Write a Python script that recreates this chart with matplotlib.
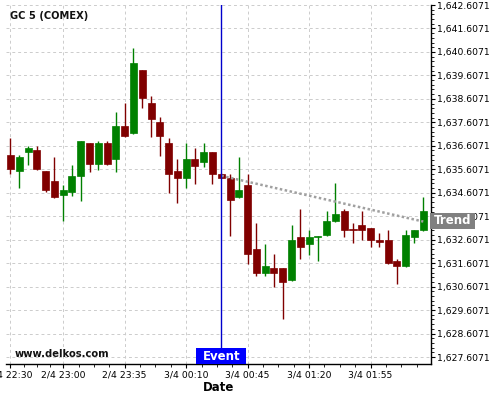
import matplotlib
matplotlib.use("Agg")
import matplotlib.pyplot as plt
import matplotlib.patches as mpatches
import matplotlib.transforms as mtransforms
from matplotlib.ticker import FuncFormatter, FixedLocator
import numpy as np
import pandas as pd

# ---------------- data ----------------
title = "GC 5 (COMEX)"
start_time = "2/4 22:30"
n_bars = 48
opens = [1636.21, 1635.54, 1636.34, 1636.42, 1635.53, 1635.10, 1634.51, 1634.62,
         1635.32, 1636.72, 1635.83, 1636.72, 1636.04, 1637.44, 1637.15, 1639.83,
         1638.42, 1637.61, 1636.72, 1635.53, 1635.23, 1636.04, 1635.91, 1636.34,
         1635.40, 1635.23, 1634.43, 1634.93, 1632.21, 1631.19, 1631.40, 1631.40,
         1630.90, 1632.72, 1632.42, 1632.73, 1632.80, 1633.40, 1633.83, 1633.06,
         1633.23, 1633.10, 1632.59, 1632.59, 1631.70, 1631.48, 1632.72, 1633.02]
closes = [1635.61, 1636.12, 1636.51, 1635.61, 1634.72, 1634.42, 1634.72, 1635.32,
          1636.81, 1635.83, 1636.72, 1635.83, 1637.44, 1637.02, 1640.13, 1638.64,
          1637.74, 1637.02, 1635.40, 1635.23, 1636.04, 1635.74, 1636.34, 1635.40,
          1635.24, 1634.31, 1634.72, 1632.01, 1631.20, 1631.48, 1631.20, 1630.82,
          1632.59, 1632.29, 1632.72, 1632.75, 1633.40, 1633.70, 1633.02, 1633.03,
          1633.02, 1632.59, 1632.51, 1631.60, 1631.48, 1632.80, 1633.02, 1633.83]
highs = [1636.92, 1636.20, 1636.62, 1636.62, 1635.55, 1636.12, 1634.92, 1635.81,
         1636.81, 1636.72, 1636.81, 1636.81, 1638.04, 1638.42, 1640.76, 1639.84,
         1638.72, 1637.83, 1636.93, 1636.04, 1636.72, 1636.51, 1636.72, 1636.35,
         1635.44, 1635.40, 1636.12, 1635.41, 1633.31, 1632.42, 1631.99, 1631.41,
         1633.23, 1633.91, 1633.02, 1632.76, 1633.83, 1635.02, 1633.91, 1633.31,
         1633.83, 1633.11, 1632.88, 1633.02, 1631.78, 1633.02, 1633.03, 1634.42]
lows = [1635.39, 1634.79, 1635.81, 1635.58, 1634.62, 1634.39, 1633.39, 1634.48,
        1634.26, 1635.50, 1635.58, 1635.78, 1635.50, 1637.00, 1637.10, 1638.22,
        1636.98, 1636.17, 1634.59, 1634.17, 1634.80, 1634.97, 1635.70, 1635.00,
        1635.22, 1632.77, 1634.39, 1631.58, 1631.07, 1631.06, 1630.58, 1629.24,
        1630.86, 1631.78, 1631.95, 1631.70, 1632.76, 1633.36, 1632.71, 1632.48,
        1632.58, 1632.29, 1632.28, 1631.57, 1630.70, 1631.45, 1632.48, 1632.99]
tick_labels = ["2/4 22:30", "2/4 23:00", "2/4 23:35", "3/4 00:10",
               "3/4 00:45", "3/4 01:20", "3/4 01:55"]
event_time = "3/4 00:30"
trend_times = ["3/4 00:30", "3/4 02:25"]
trend_values = [1635.33, 1633.38]
y_ticks = [1627.6071 + k for k in range(16)]

# ---------------- helpers ----------------
def to_dt(s):
    d, hm = s.split()
    day, mon = d.split("/")
    return pd.to_datetime(f"2024/{mon}/{day} {hm}", format="%Y/%m/%d %H:%M")

t0 = to_dt(start_time)
def minutes(s):
    return (to_dt(s) - t0).total_seconds() / 60.0

times = pd.date_range(t0, periods=n_bars, freq="5min")
x = np.array([(t - t0).total_seconds() / 60.0 for t in times])
o = np.array(opens); c = np.array(closes); h = np.array(highs); l = np.array(lows)

RED = "#800000"
GREEN = "#008000"

fig = plt.figure(figsize=(5, 4), dpi=100)
ax = fig.add_axes([6 / 500, 1 - 364 / 400, 425 / 500, 359.3 / 400])

up = c >= o
cols = np.where(up, GREEN, RED)
ax.vlines(x, l, h, colors=cols, linewidth=1.0, zorder=3)
ax.bar(x, np.abs(c - o), bottom=np.minimum(o, c), width=4.0, color=cols,
       edgecolor=cols, linewidth=0.5, zorder=3)

# event line
ex = minutes(event_time)
ax.axvline(ex, color="#0000cc", linewidth=1.0, zorder=5)

# trend line
tx = [minutes(s) for s in trend_times]
ax.plot(tx, trend_values, color="#a0a0a0", linewidth=1.8,
        linestyle=(0, (1, 1)), zorder=4)

# axes limits
ax.set_xlim(-2.56, 239.4)
ax.set_ylim(1627.309, 1642.62)

# ticks
major_x = [minutes(s) for s in tick_labels]
ax.xaxis.set_major_locator(FixedLocator(major_x))
ax.set_xticklabels(tick_labels)
minor_x = []
for a, b in zip(major_x[:-1], major_x[1:]):
    minor_x += list(np.linspace(a, b, 5)[1:-1])
step = (major_x[-1] - major_x[-2]) / 4
m = major_x[-1] + step
while m < 239.4:
    minor_x.append(m)
    m += step
ax.xaxis.set_minor_locator(FixedLocator(minor_x))

ax.yaxis.tick_right()
ax.yaxis.set_major_locator(FixedLocator(y_ticks))
ax.yaxis.set_minor_locator(FixedLocator(
    [v + d for v in y_ticks for d in (0.2, 0.4, 0.6, 0.8)]))
ax.yaxis.set_major_formatter(FuncFormatter(lambda v, p: f"{v:,.4f}"))

ax.tick_params(axis="both", which="major", labelsize=6.7, length=3,
               width=0.8, direction="out", colors="black")
ax.tick_params(axis="both", which="minor", length=2, width=0.6, direction="out")
ax.tick_params(axis="x", which="major", pad=2)
ax.tick_params(axis="y", which="major", pad=1)

for s in ("top", "left"):
    ax.spines[s].set_visible(False)
for s in ("bottom", "right"):
    ax.spines[s].set_linewidth(1.0)
    ax.spines[s].set_color("black")

ax.grid(True, which="major", color="#cccccc", linewidth=0.7,
        linestyle=(0, (3, 3)))
ax.set_axisbelow(True)

ax.set_xlabel("Date", fontsize=8.5, fontweight="bold", labelpad=1)

# texts
ax.text(4 / 425, (364 - 15.7) / 359.3, title, transform=ax.transAxes,
        fontsize=7.1, fontweight="bold", ha="left", va="center", color="#111111")
ax.text(9 / 425, (364 - 354) / 359.3, "www.delkos.com", transform=ax.transAxes,
        fontsize=7.2, fontweight="bold", ha="left", va="center", color="#111111")

# Event label box
trans = mtransforms.blended_transform_factory(ax.transData, ax.transAxes)
box_w = 50 / 8.783 * 5
ax.add_patch(mpatches.Rectangle((ex - box_w / 2, 0), box_w, 16 / 359.3,
                                transform=trans, facecolor="#0000ff",
                                edgecolor="none", zorder=6, clip_on=False))
ax.text(ex, 8 / 359.3, "Event", transform=trans, color="white",
        fontsize=8.5, fontweight="bold", ha="center", va="center", zorder=7)

# Trend label box (figure coordinates)
fig.patches.append(mpatches.Rectangle((430 / 500, 1 - 229 / 400), 45 / 500,
                                      16 / 400, transform=fig.transFigure,
                                      facecolor="#808080", edgecolor="none",
                                      zorder=5))
fig.text(452.5 / 500, 1 - 221 / 400, "Trend", color="white", fontsize=8.5,
         fontweight="bold", ha="center", va="center", zorder=6)

fig.savefig("out.png", dpi=100)
